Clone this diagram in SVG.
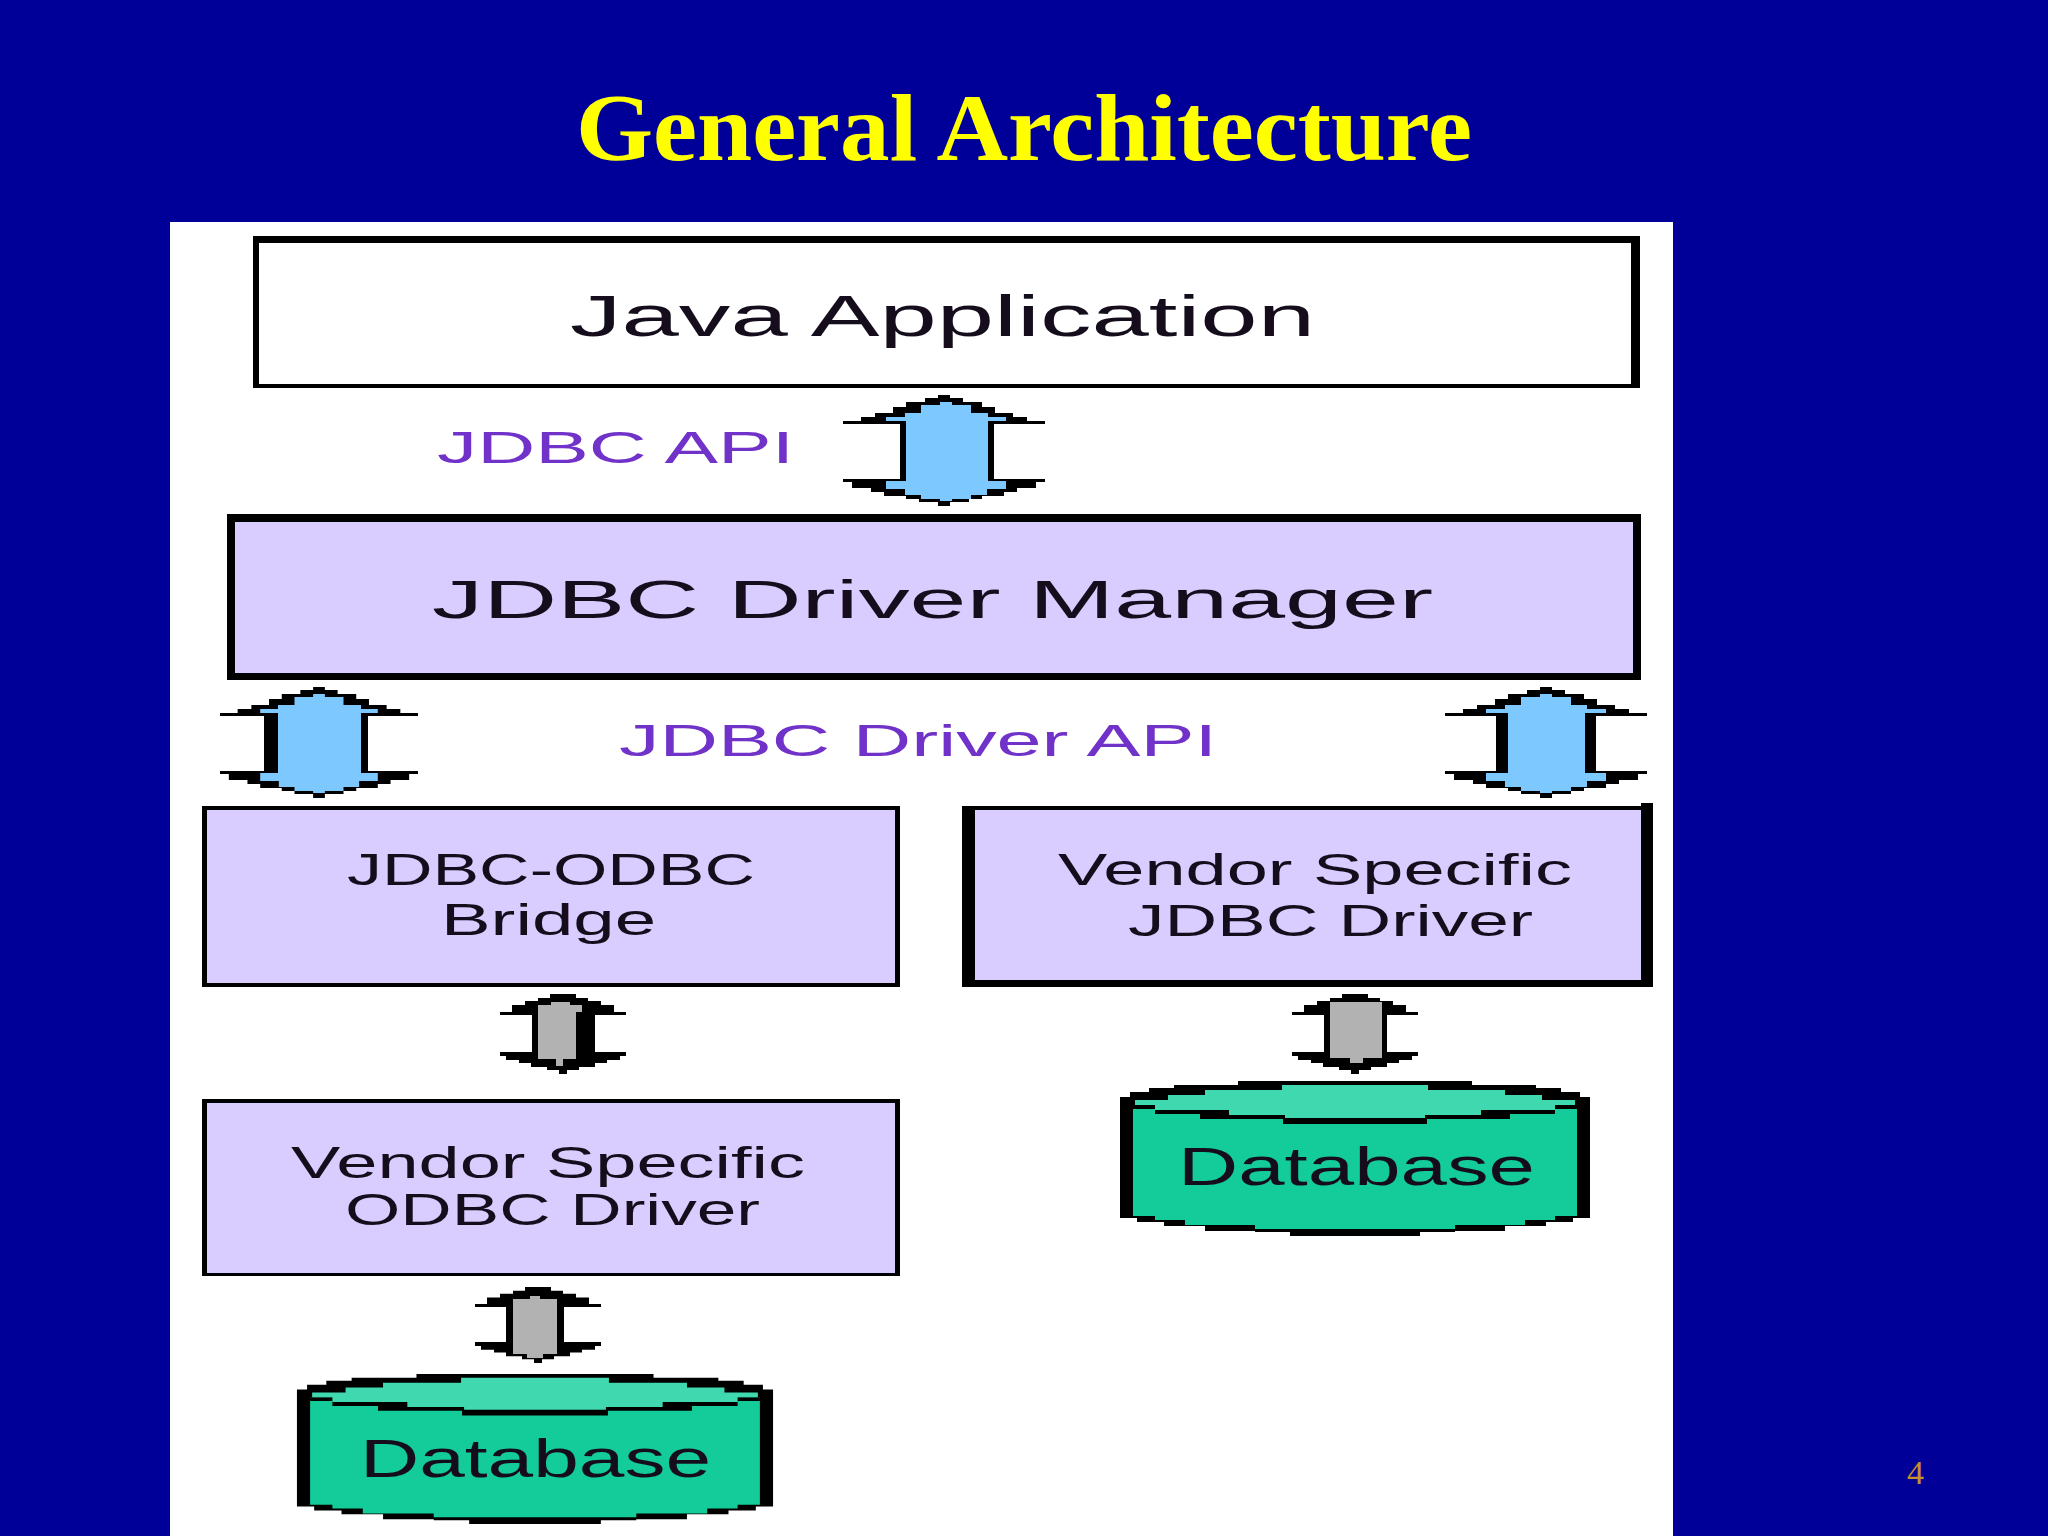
<svg xmlns="http://www.w3.org/2000/svg" width="2048" height="1536" viewBox="0 0 2048 1536">
<style>
.k{fill:#000}
.w{fill:#fff}
.lav{fill:#d9ccff}
.bl{fill:#7cc8ff}
.gr{fill:#b2b2b2}
.lbl{font-family:"Liberation Sans",Arial,sans-serif;fill:#14101e;filter:url(#soft)}
.api{font-family:"Liberation Sans",Arial,sans-serif;fill:#7030c8;font-size:44px;filter:url(#soft)}
.title{font-family:"Liberation Serif","Times New Roman",serif;font-weight:bold;fill:#ffff00;font-size:96px}
.num{font-family:"Liberation Serif","Times New Roman",serif;fill:#c89028;font-size:34px}
</style>
<defs>
<filter id="soft" x="-5%" y="-20%" width="110%" height="140%"><feGaussianBlur stdDeviation="0.7"/></filter>
<path id="heads" d="M-6 0H6V3H19V7H38V12H51V18H69V22H83V26H101V29H-101V26H-83V22H-69V18H-51V12H-38V7H-19V3H-6ZM-101 84H101V87H92V93H73V97H60V101H38V104H25V107H6V111H-6V107H-25V104H-38V101H-60V97H-73V93H-92V87H-101Z"/>
<path id="caps" d="M-6 7H6V10H25V18H41V22H60V26H-60V22H-41V18H-25V10H-6ZM-60 86H60V94H41V100H25V104H6V106H-6V104H-25V100H-41V94H-60Z"/>
<path id="greyHeads" d="M-13 0H13V4H25V7H38V11H51V18H63V21H-63V18H-51V11H-38V7H-25V4H-13ZM-63 58H63V62H57V66H44V69H32V73H16V76H4V80H-4V76H-16V73H-32V69H-44V66H-57V62H-63Z"/>
<path id="dbOuter" d="M-117 0H117V4H181V7H206V11H225V16H235V137H218V141H191V145H150V150H100V151H65V155H-65V151H-100V150H-150V145H-191V141H-218V137H-235V16H-225V11H-206V7H-181V4H-117Z"/>
<path id="dbBody" d="M-222 24H222V135H200V139H170V144H100V148H-100V144H-170V139H-200V135H-222Z"/>
<path id="dbBand" d="M-222 24H222V28H200V33H155V38H72V43H-72V38H-155V33H-200V28H-222Z"/>
<path id="dbTop" d="M-73 4H73V9H150V14H187V19H220V24H200V29H126V34H70V37H-70V34H-126V29H-200V24H-220V19H-187V14H-150V9H-73Z"/>
</defs>
<rect width="2048" height="1536" fill="#000099"/>
<text class="title" x="576" y="160" textLength="896" lengthAdjust="spacingAndGlyphs">General Architecture</text>
<rect id="panel" class="w" x="170" y="222" width="1503" height="1314"/>
<text class="num" x="1907" y="1484">4</text>

<g id="connectors">
<g id="arrow-api">
<use href="#heads" transform="translate(944,395)"/><rect class="k" x="900" y="420" width="94" height="64"/>
<use href="#caps" class="bl" transform="translate(946,395)"/><rect class="bl" x="906" y="413" width="82" height="76"/>
</g>
<g id="arrow-driver-left">
<use href="#heads" transform="translate(319,687) scale(.98,1)"/><rect class="k" x="264" y="712" width="104" height="64"/>
<use href="#caps" class="bl" transform="translate(319,687) scale(.98,1)"/><rect class="bl" x="278" y="705" width="83" height="76"/>
</g>
<g id="arrow-driver-right">
<use href="#heads" transform="translate(1546,687)"/><rect class="k" x="1496" y="712" width="100" height="64"/>
<use href="#caps" class="bl" transform="translate(1546,687)"/><rect class="bl" x="1508" y="705" width="77" height="76"/>
</g>
<g id="arrow-bridge-odbc">
<use href="#greyHeads" transform="translate(563,994)"/><rect class="k" x="532" y="1010" width="63" height="48"/>
<path class="gr" d="M538 1005H551V1002H570V1005H582V1012H576V1059H563V1066H556V1059H538Z"/>
</g>
<g id="arrow-odbc-db">
<use href="#greyHeads" transform="translate(538,1287) scale(1,.95)"/><rect class="k" x="506" y="1300" width="58" height="50"/>
<path class="gr" d="M513 1299H530V1296H540V1299H557V1354H543V1358H527V1354H513Z"/>
</g>
<g id="arrow-vendor-db">
<use href="#greyHeads" transform="translate(1355,994)"/><rect class="k" x="1324" y="1010" width="63" height="48"/>
<path class="gr" d="M1330 1002H1382V1058H1363V1063H1350V1058H1330Z"/>
</g>
</g>

<g id="java-application">
<rect class="k" x="253" y="236" width="1387" height="152"/>
<rect class="w" x="259" y="243" width="1372" height="141"/>
<text class="lbl" x="570" y="336" font-size="58" textLength="745" lengthAdjust="spacingAndGlyphs">Java Application</text>
</g>
<g id="jdbc-api-label"><text class="api" x="437" y="463" textLength="357" lengthAdjust="spacingAndGlyphs">JDBC API</text></g>
<g id="driver-manager">
<rect class="k" x="227" y="514" width="1414" height="166"/>
<rect class="lav" x="235" y="522" width="1398" height="151"/>
<text class="lbl" x="432" y="618" font-size="53" textLength="1001" lengthAdjust="spacingAndGlyphs">JDBC Driver Manager</text>
</g>
<g id="driver-api-label"><text class="api" x="619" y="756" textLength="598" lengthAdjust="spacingAndGlyphs">JDBC Driver API</text></g>
<g id="bridge">
<rect class="k" x="202" y="806" width="698" height="181"/>
<rect class="lav" x="207" y="810" width="688" height="173"/>
<text class="lbl" x="347" y="885" font-size="44" textLength="408" lengthAdjust="spacingAndGlyphs">JDBC-ODBC</text>
<text class="lbl" x="441" y="935" font-size="44" textLength="215" lengthAdjust="spacingAndGlyphs">Bridge</text>
</g>
<g id="vendor-jdbc">
<path class="k" d="M962 806H1641V803H1653V987H962Z"/>
<rect class="lav" x="975" y="810" width="666" height="170"/>
<text class="lbl" x="1058" y="885" font-size="44" textLength="514" lengthAdjust="spacingAndGlyphs">Vendor Specific</text>
<text class="lbl" x="1128" y="936" font-size="44" textLength="405" lengthAdjust="spacingAndGlyphs">JDBC Driver</text>
</g>
<g id="vendor-odbc">
<rect class="k" x="202" y="1099" width="698" height="177"/>
<rect class="lav" x="207" y="1103" width="688" height="170"/>
<text class="lbl" x="291" y="1178" font-size="44" textLength="514" lengthAdjust="spacingAndGlyphs">Vendor Specific</text>
<text class="lbl" x="345" y="1225" font-size="44" textLength="415" lengthAdjust="spacingAndGlyphs">ODBC Driver</text>
</g>
<g id="database-right">
<g transform="translate(1355,1081)">
<use href="#dbOuter"/><use href="#dbBody" fill="#14cc99"/><use href="#dbBand"/><use href="#dbTop" fill="#40d8ae"/>
</g>
<text class="lbl" x="1178" y="1185" font-size="54" textLength="357" lengthAdjust="spacingAndGlyphs">Database</text>
</g>
<g id="database-left">
<g transform="translate(535,1374) scale(1.013,.968)">
<use href="#dbOuter"/><use href="#dbBody" fill="#14cc99"/><use href="#dbBand"/><use href="#dbTop" fill="#40d8ae"/>
</g>
<text class="lbl" x="360" y="1477" font-size="54" textLength="351" lengthAdjust="spacingAndGlyphs">Database</text>
</g>
</svg>
